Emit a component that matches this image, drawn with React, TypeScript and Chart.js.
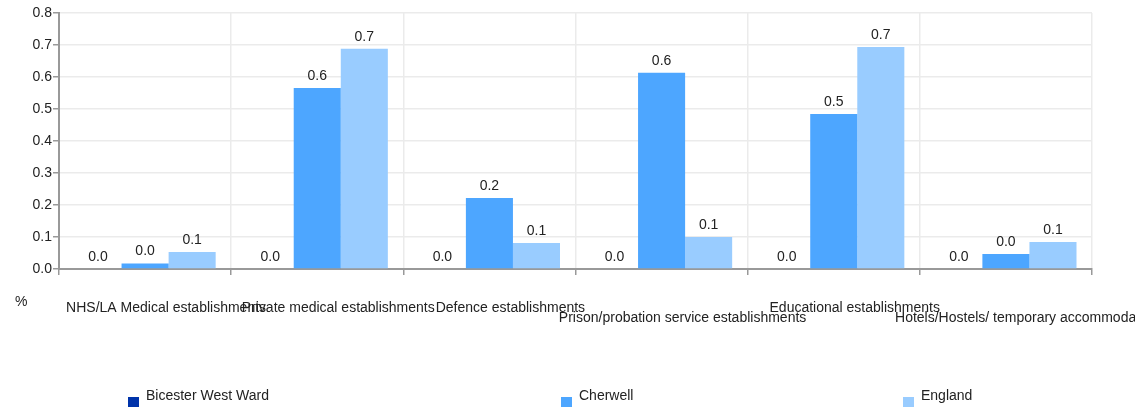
import React, { useEffect, useRef } from "react";
import { Chart, registerables } from "chart.js";

Chart.register(...registerables);

const categories = [
  "NHS/LA Medical establishments",
  "Private medical establishments",
  "Defence establishments",
  "Prison/probation service establishments",
  "Educational establishments",
  "Hotels/Hostels/ temporary accommodation",
];
const seriesNames = ["Bicester West Ward", "Cherwell", "England"];
const bicesterWestWard = [0, 0, 0, 0, 0, 0];
const cherwell = [0.017, 0.566, 0.222, 0.613, 0.484, 0.047];
const england = [0.053, 0.688, 0.081, 0.1, 0.694, 0.084];
const yTicks = [0, 0.1, 0.2, 0.3, 0.4, 0.5, 0.6, 0.7, 0.8];
const yUnit = "%";

const COLORS = ["#0033aa", "#4da6ff", "#99ccff"];
const FONT = "'Liberation Sans', Arial, Helvetica, sans-serif";
const LOWER_ROW = new Set([3, 5]);
const LEGEND_X = [128, 561, 903];

const valueLabels = {
  id: "valueLabels",
  afterDatasetsDraw(chart: any) {
    const ctx = chart.ctx;
    ctx.save();
    ctx.font = `14px ${FONT}`;
    ctx.fillStyle = "#222";
    ctx.textAlign = "center";
    ctx.textBaseline = "bottom";
    chart.data.datasets.forEach((ds: any, di: number) => {
      const meta = chart.getDatasetMeta(di);
      meta.data.forEach((el: any, i: number) => {
        const v = ds.data[i];
        ctx.fillText(Number(v).toFixed(1), el.x, el.y - 5);
      });
    });
    ctx.restore();
  },
};

const extras = {
  id: "extras",
  afterDraw(chart: any) {
    const ctx = chart.ctx;
    const xs = chart.scales.x;
    ctx.save();
    // category labels
    ctx.font = `14px ${FONT}`;
    ctx.fillStyle = "#222";
    ctx.textAlign = "center";
    ctx.textBaseline = "middle";
    (chart.data.labels as string[]).forEach((lab, i) => {
      const x = xs.getPixelForValue(i) + 21;
      const y = LOWER_ROW.has(i) ? 318 : 308.5;
      ctx.fillText(lab, x, y);
    });
    // unit
    ctx.textAlign = "left";
    ctx.fillText(yUnit, 15, 302);
    // legend
    chart.data.datasets.forEach((ds: any, di: number) => {
      const x0 = LEGEND_X[di];
      ctx.fillStyle = ds.backgroundColor;
      ctx.fillRect(x0, 397, 11, 10);
      ctx.fillStyle = "#222";
      ctx.fillText(ds.label, x0 + 18, 396);
    });
    ctx.restore();
  },
};

export default function App() {
  const ref = useRef<HTMLCanvasElement | null>(null);
  useEffect(() => {
    document.body.style.margin = "0";
    if (!ref.current) return;
    const data = [bicesterWestWard, cherwell, england];
    const chart = new Chart(ref.current, {
      type: "bar",
      data: {
        labels: categories,
        datasets: seriesNames.map((name, i) => ({
          label: name,
          data: data[i],
          backgroundColor: COLORS[i],
          borderWidth: 0,
          categoryPercentage: 0.82,
          barPercentage: 1,
        })),
      },
      options: {
        animation: false,
        responsive: true,
        maintainAspectRatio: false,
        layout: { padding: { left: 0, top: 13, right: 43, bottom: 0 } },
        plugins: { legend: { display: false }, tooltip: { enabled: false } },
        scales: {
          x: {
            type: "category",
            offset: true,
            grid: {
              offset: true,
              color: "#ebebeb",
              tickColor: "#999",
              tickLength: 6,
              lineWidth: 1.5,
            },
            border: { color: "#999", width: 2 },
            ticks: { display: false },
            afterFit(scale: any) {
              scale.height = 139;
            },
          },
          y: {
            min: 0,
            max: 0.8,
            afterBuildTicks(scale: any) {
              scale.ticks = yTicks.map((v) => ({ value: v }));
            },
            ticks: {
              font: { family: FONT, size: 14 },
              color: "#222",
              padding: 1,
              callback: (v: any) => Number(v).toFixed(1),
            },
            grid: {
              color: "#ebebeb",
              tickColor: "#999",
              tickLength: 6,
              lineWidth: 1.5,
            },
            border: { color: "#999", width: 2 },
            afterFit(scale: any) {
              scale.width = 59;
            },
          },
        },
      },
      plugins: [valueLabels, extras],
    });
    return () => chart.destroy();
  }, []);
  return (
    <div style={{ width: 1135, height: 408, position: "relative" }}>
      <canvas ref={ref} />
    </div>
  );
}
